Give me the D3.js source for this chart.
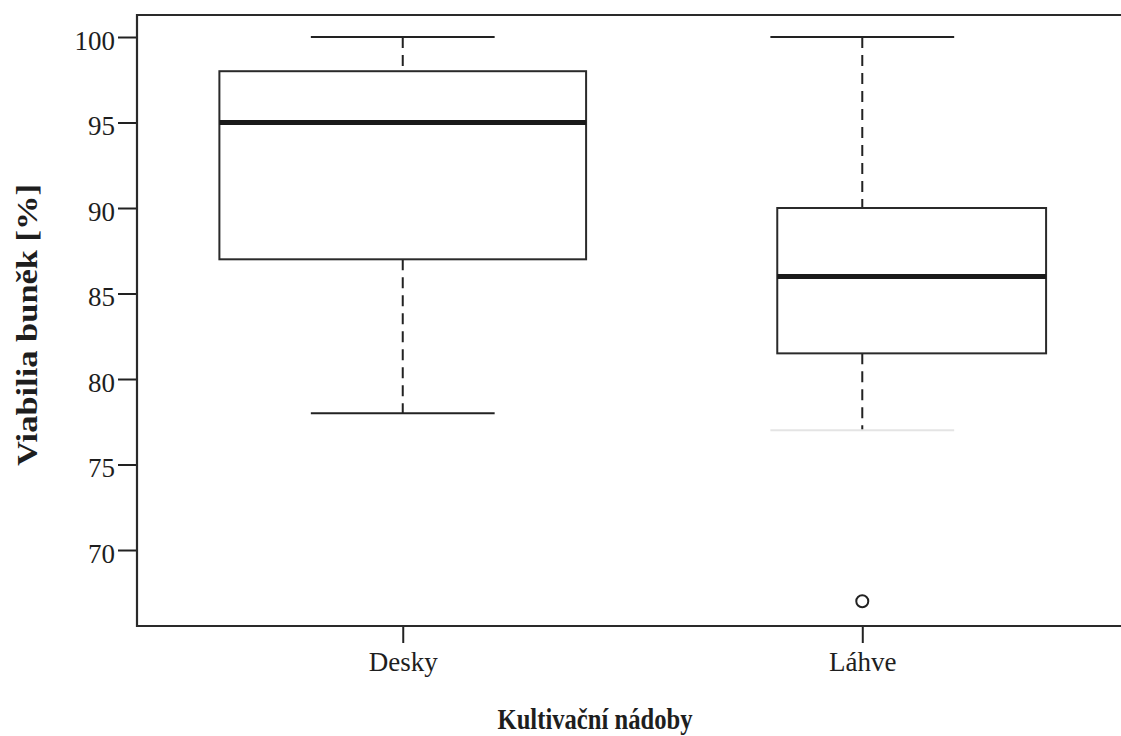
<!DOCTYPE html>
<html>
<head>
<meta charset="utf-8">
<script src="https://cdn.jsdelivr.net/npm/d3@7/dist/d3.min.js"></script>
<style>
  body { margin: 0; background: #fff; }
  text { font-family: "Liberation Serif", "DejaVu Serif", serif; fill: #1e1e1e; }
</style>
</head>
<body>
<div id="chart"></div>
<script>
// data
var categories = ["Desky", "Láhve"];
var whiskerLow  = [78, 77];
var q1          = [87, 81.5];
var medians     = [95, 86];
var q3          = [98, 90];
var whiskerHigh = [100, 100];
var outliers    = [[], [67]];
var yTicks      = [70, 75, 80, 85, 90, 95, 100];

var svgWidth = 1121;
var svgHeight = 736;

var plot = { left: 137, top: 15, bottom: 626, right: 1130 };

// box extents around each category position (in x units)
var boxLeftOff  = [0.399, 0.185];
var boxRightOff = [0.399, 0.400];
var capHalf = 0.2;

var svg = d3.select("#chart")
  .append("svg")
  .attr("width", svgWidth)
  .attr("height", svgHeight);

var xScale = d3.scaleLinear()
  .domain([0.4217, 2.5826])
  .range([plot.left, plot.right]);

var yScale = d3.scaleLinear()
  .domain([65.556, 101.287])
  .range([plot.bottom, plot.top]);

var data = categories.map(function(c, i) {
  return {
    name: c, pos: i + 1,
    lo: whiskerLow[i], q1: q1[i], med: medians[i], q3: q3[i], hi: whiskerHigh[i],
    out: outliers[i], bl: boxLeftOff[i], br: boxRightOff[i]
  };
});

// y axis
var leftAxis = d3.axisLeft(yScale)
  .tickValues(yTicks)
  .tickSize(19)
  .tickPadding(3)
  .tickFormat(d3.format("d"));

var yAxisG = svg.append("g")
  .attr("transform", `translate(${plot.left}, 0)`)
  .call(leftAxis);
yAxisG.select(".domain").remove();
yAxisG.selectAll("line").attr("stroke", "#222").attr("stroke-width", 2);
yAxisG.selectAll("text")
  .attr("font-size", 27)
  .attr("dy", "0.45em")
  .style("font-family", '"Liberation Serif", serif')
  .attr("fill", "#1e1e1e");

// x axis
var bottomAxis = d3.axisBottom(xScale)
  .tickValues([1, 2])
  .tickSize(17)
  .tickPadding(9)
  .tickFormat(function(d) { return categories[d - 1]; });

var xAxisG = svg.append("g")
  .attr("transform", `translate(0, ${plot.bottom})`)
  .call(bottomAxis);
xAxisG.select(".domain").remove();
xAxisG.selectAll("line").attr("stroke", "#222").attr("stroke-width", 2);
xAxisG.selectAll("text")
  .attr("font-size", 27)
  .style("font-family", '"Liberation Serif", serif')
  .attr("fill", "#1e1e1e");

// frame (left, top, bottom; right side runs off the picture)
svg.append("path")
  .attr("d", `M${plot.right},${plot.top}H${plot.left}V${plot.bottom}H${plot.right}`)
  .attr("fill", "none")
  .attr("stroke", "#2a2a2a")
  .attr("stroke-width", 2.2);

var boxes = svg.selectAll(".box")
  .data(data)
  .enter()
  .append("g")
  .attr("class", "box");

// dashed whiskers
boxes.append("line")
  .attr("x1", d => xScale(d.pos)).attr("x2", d => xScale(d.pos))
  .attr("y1", d => yScale(d.hi)).attr("y2", d => yScale(d.q3))
  .attr("stroke", "#222").attr("stroke-width", 2)
  .attr("stroke-dasharray", "11,7");

boxes.append("line")
  .attr("x1", d => xScale(d.pos)).attr("x2", d => xScale(d.pos))
  .attr("y1", d => yScale(d.q1)).attr("y2", d => yScale(d.lo))
  .attr("stroke", "#222").attr("stroke-width", 2)
  .attr("stroke-dasharray", "11,7");

// whisker caps
boxes.append("line")
  .attr("x1", d => xScale(d.pos - capHalf)).attr("x2", d => xScale(d.pos + capHalf))
  .attr("y1", d => yScale(d.hi)).attr("y2", d => yScale(d.hi))
  .attr("stroke", "#222").attr("stroke-width", 2);

boxes.append("line")
  .attr("x1", d => xScale(d.pos - capHalf)).attr("x2", d => xScale(d.pos + capHalf))
  .attr("y1", d => yScale(d.lo)).attr("y2", d => yScale(d.lo))
  .attr("stroke", (d, i) => i === 1 ? "#e4e4e4" : "#222")
  .attr("stroke-width", 2);

// box
boxes.append("rect")
  .attr("x", d => xScale(d.pos - d.bl))
  .attr("width", d => xScale(d.pos + d.br) - xScale(d.pos - d.bl))
  .attr("y", d => yScale(d.q3))
  .attr("height", d => yScale(d.q1) - yScale(d.q3))
  .attr("fill", "none")
  .attr("stroke", "#2a2a2a")
  .attr("stroke-width", 2);

// median
boxes.append("line")
  .attr("x1", d => xScale(d.pos - d.bl)).attr("x2", d => xScale(d.pos + d.br))
  .attr("y1", d => yScale(d.med)).attr("y2", d => yScale(d.med))
  .attr("stroke", "#1a1a1a").attr("stroke-width", 5);

// outliers
boxes.selectAll("circle")
  .data(d => d.out.map(v => ({ pos: d.pos, v: v })))
  .enter()
  .append("circle")
  .attr("cx", d => xScale(d.pos))
  .attr("cy", d => yScale(d.v))
  .attr("r", 6)
  .attr("fill", "none")
  .attr("stroke", "#222")
  .attr("stroke-width", 2);

// axis titles
svg.append("text")
  .attr("transform", "translate(37, 325) rotate(-90)")
  .attr("text-anchor", "middle")
  .attr("font-weight", "bold")
  .attr("font-size", 30)
  .attr("textLength", 282)
  .attr("lengthAdjust", "spacingAndGlyphs")
  .style("font-family", '"Liberation Serif", serif')
  .text("Viabilia buněk [%]");

svg.append("text")
  .attr("x", 595)
  .attr("y", 729)
  .attr("text-anchor", "middle")
  .attr("font-weight", "bold")
  .attr("font-size", 29)
  .attr("textLength", 195)
  .attr("lengthAdjust", "spacingAndGlyphs")
  .style("font-family", '"Liberation Serif", serif')
  .text("Kultivační nádoby");
</script>
</body>
</html>
